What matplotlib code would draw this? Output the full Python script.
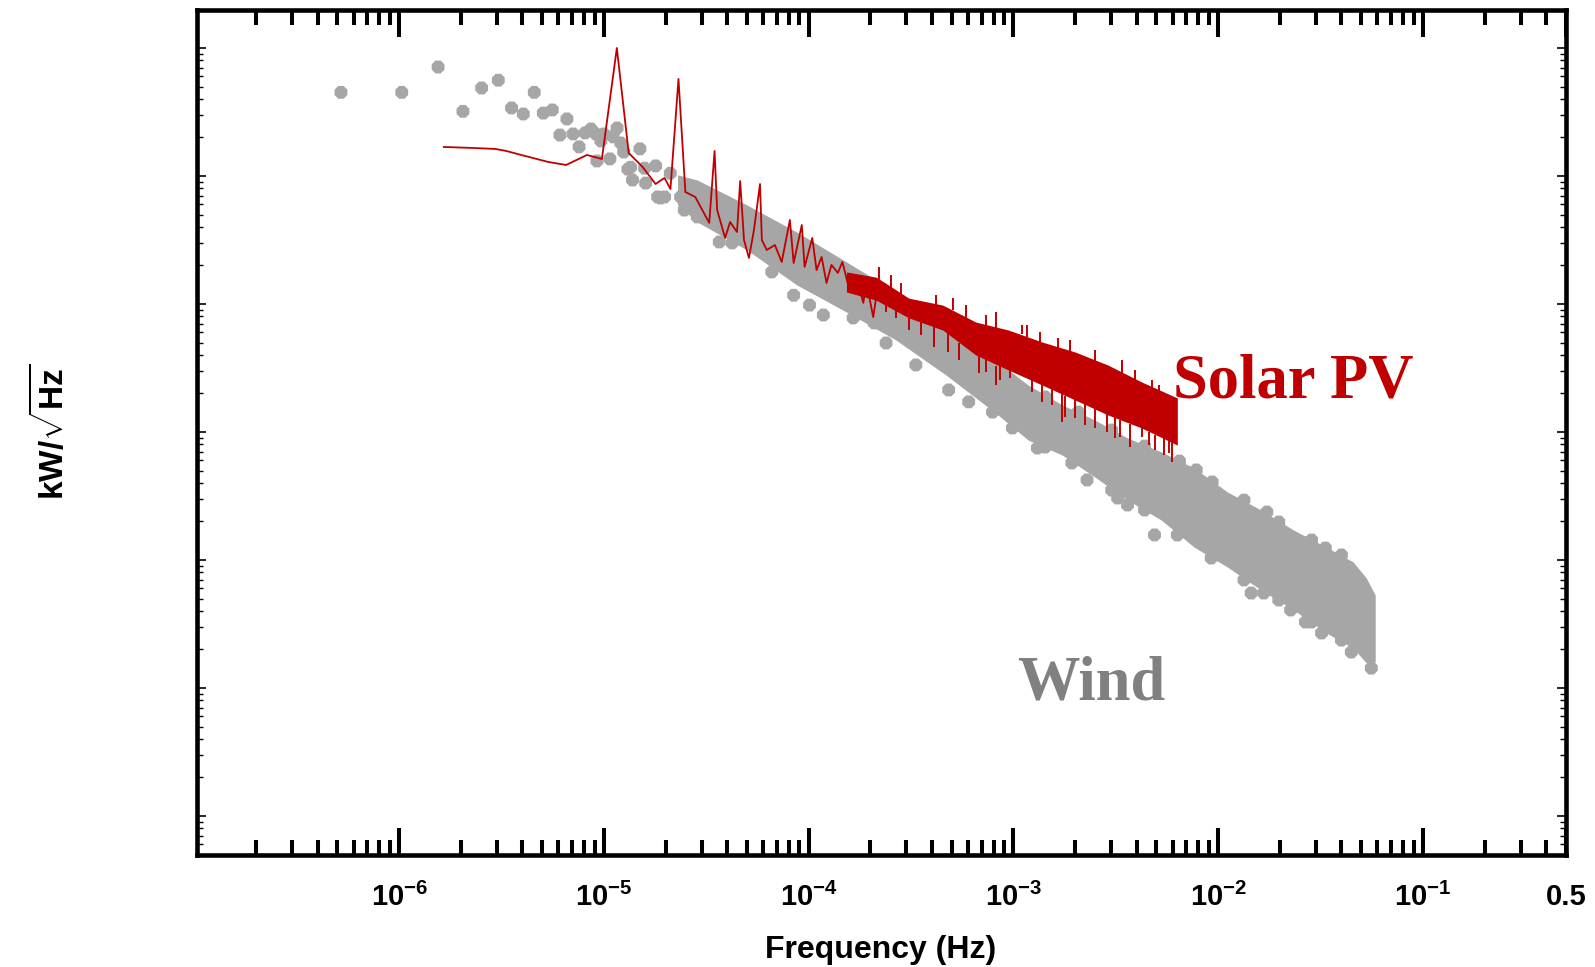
import matplotlib
matplotlib.use('Agg')
import matplotlib.pyplot as plt
import numpy as np
from matplotlib.ticker import LogLocator, NullFormatter

plt.rcParams['font.family'] = ['Liberation Sans', 'DejaVu Sans']
plt.rcParams['mathtext.fontset'] = 'custom'
plt.rcParams['mathtext.rm'] = 'Liberation Sans'
plt.rcParams['mathtext.bf'] = 'Liberation Sans:bold'

# ---------------- data ----------------
# Wind: individually visible points
wind_freq = [5.2e-7, 1.03e-6, 1.55e-6, 2.05e-6, 2.53e-6, 3.05e-6, 3.54e-6, 4.04e-6, 4.57e-6, 5.06e-6,
             5.6e-6, 6.1e-6, 6.6e-6, 7.07e-6, 7.57e-6, 8.09e-6, 8.65e-6, 9.14e-6, 9.25e-6, 9.67e-6,
             1.0e-5, 1.07e-5, 1.11e-5, 1.16e-5, 1.21e-5, 1.25e-5, 1.31e-5, 1.38e-5, 1.50e-5, 1.60e-5,
             1.83e-5, 1.98e-5, 1.35e-5, 1.58e-5, 1.79e-5, 2.11e-5, 1.89e-5, 2.37e-5, 2.47e-5, 2.70e-5,
             2.86e-5, 3.30e-5, 3.78e-5, 3.66e-5, 4.23e-5, 4.89e-5, 6.61e-5, 8.45e-5, 1.01e-4, 1.18e-4,
             1.65e-4, 2.09e-4, 2.39e-4, 2.77e-4, 3.16e-4, 3.34e-4, 4.83e-4, 6.05e-4, 7.91e-4, 1.31e-3,
             1.93e-3, 2.29e-3, 3.23e-3, 3.61e-3, 4.89e-3, 7.82e-3, 0.0145, 0.0167, 0.0173, 0.0226,
             0.0267, 0.027, 0.032, 0.0334, 0.0447, 0.056]
wind_psd = [45, 45, 71, 32, 48.7, 56, 34, 30.5, 45, 31,
            32.8, 20.9, 27.9, 21.3, 16.9, 21.7, 23.3, 21.3, 13.1, 18.8,
            21.3, 13.6, 20.2, 23.7, 18.1, 15.4, 11.3, 9.3, 16.3, 8.8,
            6.86, 6.86, 11.7, 11.5, 12.0, 10.5, 6.73, 6.86, 5.42, 8.06,
            4.79, 6.15, 6.15, 3.05, 3.0, 3.16, 1.78, 1.17, 0.98, 0.82,
            0.778, 0.711, 0.496, 0.626, 0.604, 0.334, 0.213, 0.172, 0.143, 0.075,
            0.0573, 0.0422, 0.0305, 0.0269, 0.0157, 0.0505, 0.00552, 0.00552, 0.0237, 0.00407,
            0.00328, 0.0136, 0.00269, 0.0124, 0.00191, 0.00143]

# Wind: blobs on the ragged edges of the dense cloud
wind_edge_freq = [1.43e-3, 2.07e-3, 3.02e-3, 4.37e-3, 6.47e-3, 9.35e-3, 0.01337, 0.01978, 0.0286, 0.04,
                  9.89e-4, 1.43e-3, 3.02e-3, 4.37e-3, 6.32e-3, 9.25e-3, 0.01337, 0.01978, 0.0286, 0.04]
wind_edge_psd = [0.1877, 0.1433, 0.1036, 0.0777, 0.0593, 0.0407, 0.0294, 0.0198, 0.01433, 0.01094,
                 0.1075, 0.0763, 0.0352, 0.0246, 0.01568, 0.01036, 0.00698, 0.00487, 0.00328, 0.00237]

# Wind: dense cloud of points (upper / lower edge of the cloud)
wind_band_freq = [2.29e-5, 2.86e-5, 5.0e-5, 8.75e-5, 1.53e-4, 2.67e-4, 4.68e-4, 8.18e-4, 1.18e-3, 1.73e-3,
                  2.50e-3, 3.61e-3, 5.28e-3, 7.64e-3, 0.0111, 0.0162, 0.0234, 0.0338, 0.0457, 0.0529, 0.0585]
wind_band_high = [10.2, 9.3, 5.93, 3.65, 2.13, 1.24, 0.686, 0.365, 0.233, 0.163,
                  0.124, 0.0898, 0.0698, 0.0523, 0.034, 0.0246, 0.0171, 0.0126, 0.00965, 0.00723, 0.00533]
wind_band_low = [5.93, 4.37, 2.64, 1.41, 0.866, 0.523, 0.279, 0.141, 0.0866, 0.0661,
                 0.0445, 0.0294, 0.0205, 0.0126, 0.00881, 0.00583, 0.00407, 0.00269, 0.00205, 0.00157, 0.0016]

# Solar PV: low-frequency spectrum line
solar_freq = [1.653e-6, 2.31e-6, 2.96e-6, 3.34e-6, 3.95e-6, 5.35e-6, 6.54e-6, 8.27e-6, 9.78e-6, 1.157e-5,
              1.322e-5, 1.546e-5, 1.788e-5, 1.977e-5, 2.114e-5, 2.314e-5, 2.50e-5, 2.796e-5, 3.27e-5, 3.472e-5,
              3.575e-5, 3.91e-5, 4.135e-5, 4.47e-5, 4.63e-5, 4.835e-5, 5.11e-5, 5.41e-5, 5.787e-5, 5.91e-5,
              6.25e-5, 6.84e-5, 7.39e-5, 8.10e-5, 8.45e-5, 9.26e-5, 9.56e-5, 1.042e-4, 1.093e-4, 1.157e-4,
              1.223e-4, 1.293e-4, 1.389e-4, 1.462e-4, 1.581e-4, 1.71e-4, 1.85e-4, 1.913e-4, 2.068e-4, 2.212e-4]
solar_psd = [16.85, 16.55, 16.25, 15.68, 14.59, 12.87, 12.19, 14.59, 13.58, 100,
             15.12, 11.76, 8.66, 9.65, 7.91, 57.3, 7.50, 6.85, 4.30, 15.68,
             5.42, 3.28, 4.37, 3.65, 9.14, 3.16, 2.29, 3.79, 8.66, 3.16,
             2.64, 2.89, 2.13, 4.53, 2.09, 4.14, 1.95, 3.28, 1.84, 2.33,
             1.46, 2.02, 1.75, 2.13, 1.29, 1.62, 1.02, 1.49, 0.79, 1.62]

# Solar PV: dense high-frequency part (upper / lower edge)
solar_band_freq = [1.53e-4, 2.14e-4, 3.09e-4, 4.52e-4, 6.55e-4, 9.46e-4, 1.38e-3, 2.0e-3, 2.89e-3, 4.23e-3, 6.32e-3]
solar_band_high = [1.78, 1.62, 1.11, 0.98, 0.723, 0.626, 0.505, 0.422, 0.334, 0.246, 0.1845]
solar_band_low = [1.24, 1.07, 0.778, 0.626, 0.40, 0.305, 0.233, 0.178, 0.136, 0.1075, 0.079]

# Solar PV: spikes sticking out of the dense part (downwards)
down_spike_freq = [2.39e-4, 2.67e-4, 3.09e-4, 3.54e-4, 4.09e-4, 4.78e-4, 5.41e-4, 6.76e-4, 7.31e-4, 8.18e-4,
                   8.65e-4, 9.66e-4, 1.237e-3, 1.38e-3, 1.547e-3, 1.73e-3, 1.788e-3, 2.0e-3, 2.24e-3, 2.50e-3,
                   2.86e-3, 3.13e-3, 3.30e-3, 3.70e-3, 4.23e-3, 4.62e-3, 4.89e-3, 5.47e-3, 5.78e-3, 5.98e-3]
down_spike_base = [1.1, 1.0, 0.85, 0.8, 0.7, 0.62, 0.5, 0.4, 0.4, 0.33,
                   0.33, 0.32, 0.27, 0.25, 0.22, 0.2, 0.19, 0.18, 0.17, 0.16,
                   0.14, 0.13, 0.125, 0.115, 0.11, 0.1, 0.095, 0.09, 0.09, 0.085]
down_spike_tip = [0.866, 0.777, 0.626, 0.573, 0.461, 0.422, 0.365, 0.289, 0.294, 0.233,
                  0.255, 0.264, 0.205, 0.1715, 0.1625, 0.12, 0.131, 0.1286, 0.1135, 0.1075,
                  0.1, 0.0898, 0.0914, 0.0764, 0.0914, 0.079, 0.0723, 0.066, 0.0685, 0.0583]

# Solar PV: spikes sticking out of the dense part (upwards)
up_spike_freq = [2.21e-4, 2.53e-4, 2.83e-4, 4.18e-4, 5.06e-4, 5.85e-4, 7.31e-4, 8.18e-4, 1.107e-3, 1.17e-3,
                 1.353e-3, 1.65e-3, 1.891e-3, 2.50e-3, 3.38e-3, 3.91e-3, 4.73e-3, 5.17e-3, 6.11e-3]
up_spike_base = [1.6, 1.3, 1.1, 0.9, 0.9, 0.75, 0.65, 0.65, 0.58, 0.55,
                 0.5, 0.45, 0.42, 0.35, 0.28, 0.25, 0.21, 0.2, 0.16]
up_spike_tip = [1.95, 1.685, 1.46, 1.176, 1.11, 0.98, 0.821, 0.866, 0.686, 0.686,
                0.604, 0.542, 0.523, 0.437, 0.365, 0.305, 0.255, 0.233, 0.1845]

xtick_values = [1e-6, 1e-5, 1e-4, 1e-3, 1e-2, 1e-1, 0.5]
xtick_labels = [r'$\mathbf{10^{-6}}$', r'$\mathbf{10^{-5}}$', r'$\mathbf{10^{-4}}$', r'$\mathbf{10^{-3}}$',
                r'$\mathbf{10^{-2}}$', r'$\mathbf{10^{-1}}$', '0.5']

GRAY = '#A6A6A6'
RED = '#C00000'

# ---------------- figure ----------------
fig = plt.figure(figsize=(15.95, 9.67), dpi=100)
ax = fig.add_axes([197 / 1595, 1 - 855 / 967, (1566 - 197) / 1595, (855 - 10) / 967])
ax.set_xscale('log')
ax.set_yscale('log')

ax.fill_between(wind_band_freq, wind_band_low, wind_band_high, color=GRAY, lw=0, zorder=2)
ax.scatter(wind_freq, wind_psd, s=100, marker='8', color=GRAY, edgecolors='none', zorder=2)
ax.scatter(wind_edge_freq, wind_edge_psd, s=100, marker='8', color=GRAY, edgecolors='none', zorder=2)

ax.plot(solar_freq, solar_psd, color=RED, lw=1.3, zorder=3)
ax.fill_between(solar_band_freq, solar_band_low, solar_band_high, color=RED, lw=0, zorder=3)
ax.vlines(down_spike_freq, down_spike_base, down_spike_tip, color=RED, lw=1.4, zorder=3)
ax.vlines(up_spike_freq, up_spike_base, up_spike_tip, color=RED, lw=1.4, zorder=3)

ax.set_xlim(1.03e-7, 0.5)
ax.set_ylim(4.96e-5, 198)

ax.set_xticks(xtick_values)
ax.set_xticklabels(xtick_labels, fontweight='bold')
ax.xaxis.set_minor_locator(LogLocator(base=10, subs=np.arange(2, 10), numticks=30))
ax.xaxis.set_minor_formatter(NullFormatter())
ax.yaxis.set_major_locator(LogLocator(base=10, numticks=30))
ax.yaxis.set_minor_locator(LogLocator(base=10, subs=np.arange(2, 10), numticks=30))
ax.yaxis.set_major_formatter(NullFormatter())
ax.yaxis.set_minor_formatter(NullFormatter())

ax.tick_params(axis='x', which='major', direction='in', length=19.5, width=2.9,
               top=True, bottom=True, labelsize=21, pad=20)
ax.tick_params(axis='x', which='minor', direction='in', length=10.8, width=2.9,
               top=True, bottom=True)
ax.tick_params(axis='y', which='major', direction='in', length=6.5, width=1.2,
               left=True, right=True, labelleft=False)
ax.tick_params(axis='y', which='minor', direction='in', length=4, width=1.0,
               left=True, right=True)

for sp in ax.spines.values():
    sp.set_linewidth(3.3)
    sp.set_zorder(5)

fig.text(1173 / 1595, 1 - 398 / 967, 'Solar PV', color=RED, fontsize=45, fontweight='bold',
         family='Liberation Serif', ha='left', va='baseline')
fig.text(1017 / 1595, 1 - 699 / 967, 'Wind', color='#808080', fontsize=45, fontweight='bold',
         family='Liberation Serif', ha='left', va='baseline')

fig.text(881 / 1595, 1 - 958 / 967, 'Frequency (Hz)', fontsize=23, fontweight='bold',
         ha='center', va='baseline')
fig.text(50 / 1595, 1 - 432 / 967, r'$\mathbf{kW/\sqrt{Hz}}$', fontsize=24, rotation=90,
         ha='center', va='center')

fig.savefig('out.png', dpi=100)
